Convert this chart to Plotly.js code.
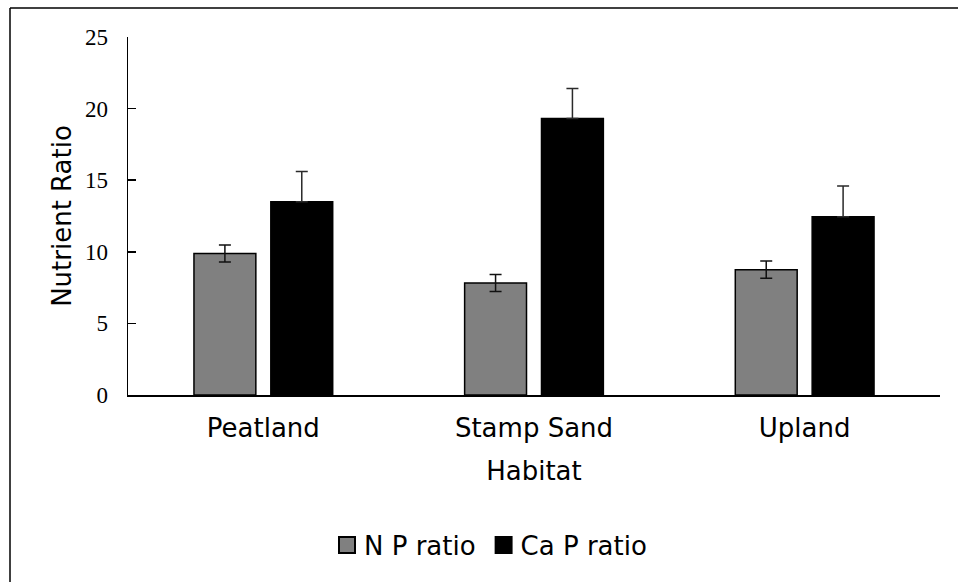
<!DOCTYPE html>
<html>
<head>
<meta charset="utf-8">
<script src="https://cdn.plot.ly/plotly-3.0.1.min.js"></script>
<style>html,body{margin:0;padding:0;background:#fff;}#chart{width:958px;height:582px;}</style>
</head>
<body>
<div id="chart"></div>
<script>
const categories = ['Peatland', 'Stamp Sand', 'Upland'];
const npRatio = [9.88, 7.82, 8.75];
const npError = [0.6, 0.6, 0.6];
const caRatio = [13.5, 19.3, 12.45];
const caError = [2.1, 2.1, 2.15];
const seriesNames = ['N P ratio', 'Ca P ratio'];

const W = 958, H = 582;
const L = 128, R = 18, T = 37, B = 187;
const pw = W - L - R, ph = H - T - B;
const px = v => (v - L) / pw;
const py = v => (H - B - v) / ph;

const traces = [
  {
    type: 'bar', name: seriesNames[0], x: categories, y: npRatio,
    marker: {color: '#808080', line: {color: '#000', width: 1.5}},
    error_y: {type: 'data', array: npError, visible: true, color: '#111', thickness: 1.5, width: 6}
  },
  {
    type: 'bar', name: seriesNames[1], x: categories, y: caRatio,
    marker: {color: '#000', line: {color: '#000', width: 1.5}},
    error_y: {type: 'data', symmetric: false, array: caError, arrayminus: caError.map(() => 0),
              visible: true, color: '#2a2a2a', thickness: 1.5, width: 6}
  }
];

const layout = {
  width: W, height: H,
  margin: {l: L, r: R, t: T, b: B},
  paper_bgcolor: '#fff', plot_bgcolor: '#fff',
  barmode: 'group', bargap: 0.432, bargroupgap: 0.195,
  showlegend: true,
  font: {family: 'DejaVu Sans', color: '#000'},
  xaxis: {
    showline: true, linecolor: '#000', linewidth: 1.5,
    ticks: '', showgrid: false, zeroline: false,
    tickfont: {family: 'DejaVu Sans', size: 26, color: '#000'},
    ticklabelstandoff: 9,
    title: {text: 'Habitat', font: {family: 'DejaVu Sans', size: 26, color: '#000'}, standoff: 20}
  },
  yaxis: {
    range: [0, 25], dtick: 5, tick0: 0,
    showline: true, linecolor: '#000', linewidth: 1.5,
    ticks: 'inside', ticklen: 8, tickwidth: 1.5, tickcolor: '#000',
    showgrid: false, zeroline: false,
    tickfont: {family: 'Liberation Serif', size: 23, color: '#000'},
    ticklabelstandoff: 14,
    title: {text: 'Nutrient Ratio', font: {family: 'DejaVu Sans', size: 26, color: '#000'}, standoff: 6}
  },
  legend: {
    orientation: 'h', x: px(488), xanchor: 'center', y: py(545), yanchor: 'middle',
    font: {family: 'DejaVu Sans', size: 26, color: '#000'},
    itemwidth: 30, traceorder: 'normal', bgcolor: 'rgba(0,0,0,0)'
  },
  shapes: [
    {type: 'line', xref: 'paper', yref: 'paper', x0: px(10), x1: px(10), y0: py(8), y1: py(600), line: {color: '#000', width: 1.5}},
    {type: 'line', xref: 'paper', yref: 'paper', x0: px(10), x1: px(980), y0: py(8), y1: py(8), line: {color: '#000', width: 1.5}}
  ]
};

Plotly.newPlot('chart', traces, layout, {displayModeBar: false, staticPlot: true}).then(gd => {
  gd.querySelectorAll('.legend .legendpoints path').forEach(p => {
    const t = p.getAttribute('transform') || '';
    p.setAttribute('transform', t + ' translate(3,0) scale(1.33)');
  });
});
</script>
</body>
</html>
